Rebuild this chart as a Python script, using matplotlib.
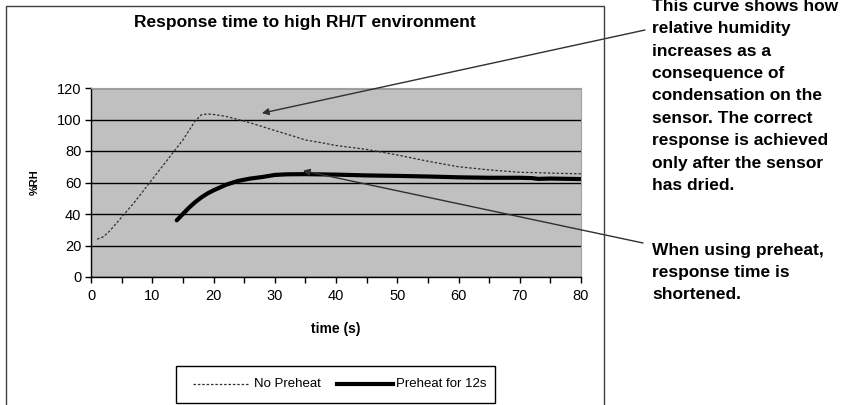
import numpy as np
import matplotlib
matplotlib.use('Agg')
import matplotlib.pyplot as plt
from matplotlib.patches import Rectangle
from matplotlib.lines import Line2D

plt.rcParams['font.family'] = ['Liberation Sans', 'DejaVu Sans']

# No preheat curve (dashed)
t_nopre = [1, 2, 3, 5, 7, 10, 12, 15, 17, 18, 19, 20, 22, 25, 28, 30, 33, 35, 38, 40,
           45, 50, 55, 60, 65, 70, 75, 80]
rh_nopre = [24, 25.5, 29, 38, 47, 62, 72, 87, 99, 103, 103.5, 103.2, 102, 99, 95.5, 93,
            89.5, 87, 85, 83.5, 81, 77.5, 73.5, 70, 68, 66.5, 66, 65.5]

# Preheat for 12s curve (solid, thick)
t_pre = [14, 15, 16, 17, 18, 19, 20, 22, 24, 26, 28, 30, 32, 35, 40, 45, 50, 55, 60,
         65, 70, 72, 73, 75, 80]
rh_pre = [36, 40, 44, 47.5, 50.5, 53, 55, 58.5, 61, 62.5, 63.5, 64.8, 65.2, 65.3, 65,
          64.5, 64.2, 63.8, 63.3, 63, 63, 62.8, 62.3, 62.5, 62.2]

title = 'Response time to high RH/T environment'
note1 = ['This curve shows how', 'relative humidity', 'increases as a', 'consequence of',
         'condensation on the', 'sensor. The correct', 'response is achieved',
         'only after the sensor', 'has dried.']
note2 = ['When using preheat,', 'response time is', 'shortened.']

W, H = 841, 405
fig = plt.figure(figsize=(W / 100, H / 100), dpi=100)
fig.patch.set_facecolor('white')

# outer chart frame
fig.patches.append(Rectangle((6 / W, -0.1), 598 / W, 1.1 - 6 / H, transform=fig.transFigure,
                             fill=False, edgecolor='#404040', linewidth=1.0))

ax = fig.add_axes([91 / W, (H - 277) / H, 490 / W, 189 / H])
ax.set_facecolor('#c0c0c0')
ax.plot(t_nopre, rh_nopre, color='#303030', linewidth=0.9, linestyle=(0, (2, 1.5)),
        label='No Preheat')
ax.plot(t_pre, rh_pre, color='black', linewidth=3, label='Preheat for 12s',
        solid_capstyle='round')

ax.set_xlim(0, 80)
ax.set_ylim(0, 120)
ax.set_xticks(range(0, 81, 10))
ax.set_xticks(range(0, 81, 5), minor=True)
ax.set_yticks(range(0, 121, 20))
ax.yaxis.grid(True, color='black', linewidth=1.0)
ax.set_axisbelow(True)
for s in ['top', 'right']:
    ax.spines[s].set_color('#a0a0a0')
    ax.spines[s].set_linewidth(0.8)
for s in ['left', 'bottom']:
    ax.spines[s].set_color('black')
    ax.spines[s].set_linewidth(1.0)
ax.tick_params(axis='both', which='both', direction='out', length=4, width=1,
               labelsize=10.5, pad=3)
ax.tick_params(axis='x', pad=5)

ax.set_xlabel('time (s)', fontsize=10, fontweight='bold', labelpad=13)
ax.set_ylabel('%RH', fontsize=8, fontweight='bold', labelpad=12)

fig.text(305 / W, 1 - 22 / H, title, ha='center', va='center', fontsize=12.5,
         fontweight='bold')

# legend box
fig.patches.append(Rectangle((176 / W, 1 - 403 / H), 319 / W, 37 / H,
                             transform=fig.transFigure, fill=False,
                             edgecolor='black', linewidth=1.0))
ly = 1 - 384 / H
fig.add_artist(Line2D([193 / W, 248 / W], [ly, ly], transform=fig.transFigure,
                      color='#303030', linewidth=0.9, linestyle=(0, (2, 1.5))))
fig.text(254 / W, ly, 'No Preheat', ha='left', va='center', fontsize=9.5)
fig.add_artist(Line2D([337 / W, 393 / W], [ly, ly], transform=fig.transFigure,
                      color='black', linewidth=3))
fig.text(396 / W, ly, 'Preheat for 12s', ha='left', va='center', fontsize=9.5)

# annotations
ax.annotate('', xy=(27.9, 104), xytext=(645, H - 30), textcoords='figure pixels',
            annotation_clip=False,
            arrowprops=dict(arrowstyle='-|>', color='#303030', lw=1.0,
                            mutation_scale=10, shrinkA=0, shrinkB=0))
ax.annotate('', xy=(34.6, 67.5), xytext=(643, H - 243), textcoords='figure pixels',
            annotation_clip=False,
            arrowprops=dict(arrowstyle='-|>', color='#303030', lw=1.0,
                            mutation_scale=10, shrinkA=0, shrinkB=0))

# note text, one line at a time (baseline positions in pixels from top)
for i, line in enumerate(note1):
    fig.text(652 / W, 1 - (10.8 + 22.4 * i) / H, line, ha='left', va='baseline',
             fontsize=12.5, fontweight='bold')
for i, line in enumerate(note2):
    fig.text(652 / W, 1 - (255 + 22 * i) / H, line, ha='left', va='baseline',
             fontsize=12.5, fontweight='bold')

fig.savefig('out.png', dpi=100)
